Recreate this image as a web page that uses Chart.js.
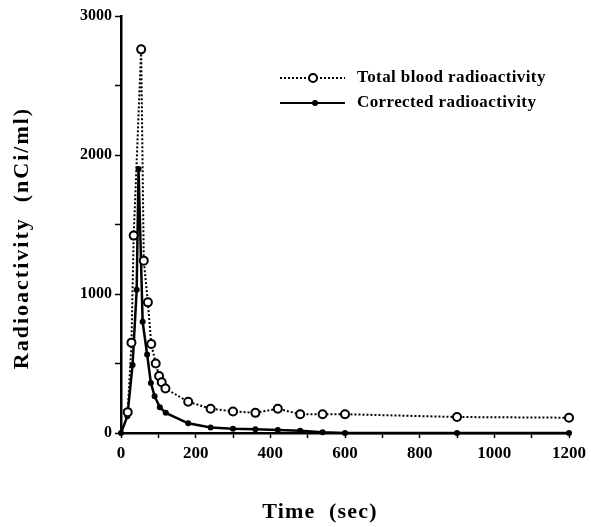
<!DOCTYPE html>
<html>
<head>
<meta charset="utf-8">
<script src="https://cdn.jsdelivr.net/npm/chart.js@4.4.0/dist/chart.umd.min.js"></script>
<style>
  html, body { margin: 0; padding: 0; background: #fff; }
  #wrap { width: 591px; height: 527px; }
</style>
</head>
<body>
<div id="wrap"><canvas id="grafico" width="591" height="527"></canvas></div>
<script>
// datos
const totalTime = [18, 28, 34, 54, 61, 72, 81, 93, 102, 109, 119, 180, 240, 300, 360, 420, 480, 540, 600, 900, 1200];
const totalValues = [150, 650, 1420, 2760, 1240, 940, 640, 500, 410, 365, 320, 225, 175, 155, 145, 175, 135, 135, 135, 115, 110];
const correctedTime = [0, 17, 31, 42, 47, 58, 70, 80, 90, 104, 120, 180, 240, 300, 360, 420, 480, 540, 600, 900, 1200];
const correctedValues = [0, 120, 490, 1030, 1900, 800, 565, 360, 265, 185, 145, 70, 40, 30, 27, 22, 16, 5, 0, 0, 0];
const xTicks = [0, 200, 400, 600, 800, 1000, 1200];
const yTicks = [0, 1000, 2000, 3000];
const seriesNames = ["Total blood radioactivity", "Corrected radioactivity"];

const serif = "'Liberation Serif', 'DejaVu Serif', serif";
const ctx = document.getElementById('grafico').getContext('2d');

// leyenda y titulos de los ejes dibujados a mano
const etiquetas = {
    id: 'etiquetas',
    afterDraw(chart) {
        const c = chart.ctx;
        c.save();
        c.fillStyle = '#000';
        c.strokeStyle = '#000';

        // leyenda
        const filas = [78, 103];
        filas.forEach((y, i) => {
            c.beginPath();
            c.lineWidth = 2;
            c.setLineDash(i === 0 ? [2, 2] : []);
            c.moveTo(280, y);
            c.lineTo(345, y);
            c.stroke();
            c.setLineDash([]);
            c.beginPath();
            if (i === 0) {
                c.arc(313, y, 4, 0, Math.PI * 2);
                c.fillStyle = '#fff';
                c.fill();
                c.stroke();
            } else {
                c.arc(315, y, 3, 0, Math.PI * 2);
                c.fillStyle = '#000';
                c.fill();
            }
            c.fillStyle = '#000';
            c.font = "bold 17px " + serif;
            c.letterSpacing = '0.4px';
            c.textAlign = 'left';
            c.textBaseline = 'middle';
            c.fillText(seriesNames[i], 357, y);
        });

        // titulos
        c.font = "bold 22px " + serif;
        c.textAlign = 'center';
        c.textBaseline = 'middle';
        c.letterSpacing = '1.2px';
        c.fillText("Time  (sec)", 320, 512);
        c.letterSpacing = '2px';
        c.translate(22, 238);
        c.rotate(-Math.PI / 2);
        c.fillText("Radioactivity  (nCi/ml)", 0, 0);
        c.restore();
    }
};

const chart = new Chart(ctx, {
    type: 'line',
    data: {
        datasets: [{
            label: seriesNames[0],
            data: totalTime.map((t, i) => ({ x: t, y: totalValues[i] })),
            borderColor: '#000',
            borderWidth: 2,
            borderDash: [2, 2],
            pointRadius: 4,
            pointBorderWidth: 2,
            pointBackgroundColor: '#fff',
            pointBorderColor: '#000',
            tension: 0,
            clip: false
        }, {
            label: seriesNames[1],
            data: correctedTime.map((t, i) => ({ x: t, y: correctedValues[i] })),
            borderColor: '#000',
            borderWidth: 2.5,
            pointRadius: 3,
            pointBorderWidth: 0,
            pointBackgroundColor: '#000',
            tension: 0,
            clip: false
        }]
    },
    options: {
        responsive: false,
        animation: false,
        layout: { padding: { top: 16, right: 20, left: 0, bottom: 0 } },
        plugins: {
            legend: { display: false },
            tooltip: { enabled: false }
        },
        scales: {
            x: {
                type: 'linear',
                min: 0,
                max: 1200,
                afterFit: (s) => { s.height = 94; },
                border: { color: '#000', width: 2.5 },
                grid: { drawOnChartArea: false, drawTicks: true, tickLength: 5, tickWidth: 1.5, tickColor: '#000' },
                ticks: {
                    stepSize: 100,
                    autoSkip: false,
                    maxRotation: 0,
                    padding: 5,
                    color: '#000',
                    font: { family: serif, size: 17, weight: 'bold' },
                    callback: (v) => xTicks.includes(v) ? String(v) : ''
                }
            },
            y: {
                min: 0,
                max: 3000,
                afterFit: (s) => { s.width = 121; },
                border: { color: '#000', width: 2.5 },
                grid: { drawOnChartArea: false, drawTicks: true, tickLength: 6, tickWidth: 1.5, tickColor: '#000' },
                ticks: {
                    stepSize: 500,
                    autoSkip: false,
                    padding: 3,
                    color: '#000',
                    font: { family: serif, size: 16, weight: 'bold' },
                    callback: (v) => yTicks.includes(v) ? String(v) : ''
                }
            }
        }
    },
    plugins: [etiquetas]
});
</script>
</body>
</html>
